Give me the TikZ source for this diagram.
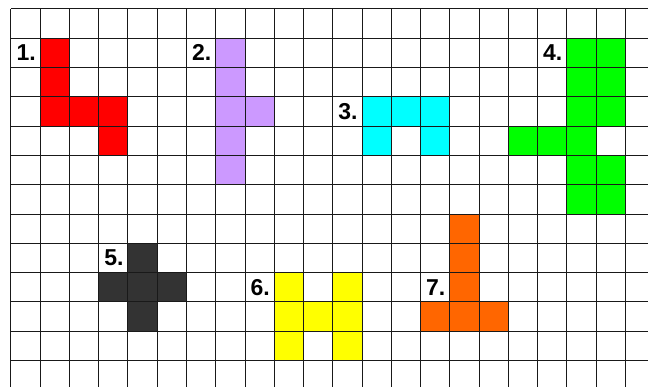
\documentclass[tikz,border=0pt]{standalone}
\usepackage{fontspec}
\setmainfont{Liberation Sans}
\usepackage{tikz}
\definecolor{piecered}{HTML}{FF0000}
\definecolor{piecelilac}{HTML}{CC99FF}
\definecolor{piececyan}{HTML}{00FFFF}
\definecolor{piecegreen}{HTML}{00FF00}
\definecolor{piecedark}{HTML}{333333}
\definecolor{pieceyellow}{HTML}{FFFF00}
\definecolor{pieceorange}{HTML}{FF6600}
\tikzset{
  gridline/.style={line width=1pt,color=black!90},
  piecelabel/.style={font=\fontsize{23}{23}\selectfont\bfseries,inner sep=0pt}
}
\newcommand{\piececell}[3]{\fill[#3] (#1,#2) rectangle ++(1,1);}

\begin{document}
\begin{tikzpicture}[x=29.25pt,y=-29.3pt]
\useasboundingbox[fill=white] (-0.376,-0.307) rectangle (21.778,12.90);
% piece 1
\foreach \c/\r in {1/1,1/2,1/3,2/3,3/3,3/4} {\piececell{\c}{\r}{piecered}}
% piece 2
\foreach \c/\r in {7/1,7/2,7/3,8/3,7/4,7/5} {\piececell{\c}{\r}{piecelilac}}
% piece 3
\foreach \c/\r in {12/3,13/3,14/3,12/4,14/4} {\piececell{\c}{\r}{piececyan}}
% piece 4
\foreach \c/\r in {19/1,20/1,19/2,20/2,19/3,20/3,17/4,18/4,19/4,19/5,20/5,19/6,20/6} {\piececell{\c}{\r}{piecegreen}}
% piece 5
\foreach \c/\r in {4/8,3/9,4/9,5/9,4/10} {\piececell{\c}{\r}{piecedark}}
% piece 6
\foreach \c/\r in {9/9,11/9,9/10,10/10,11/10,9/11,11/11} {\piececell{\c}{\r}{pieceyellow}}
% piece 7
\foreach \c/\r in {15/7,15/8,15/9,14/10,15/10,16/10} {\piececell{\c}{\r}{pieceorange}}
% grid
\foreach \c in {0,...,21} {\draw[gridline] (\c,0) -- (\c,12.90);}
\foreach \r in {0,...,12} {\draw[gridline] (0,\r) -- (21.778,\r);}
% labels
\node[piecelabel] (lab1) at (0.52,1.5) {1.};
\node[piecelabel] (lab2) at (6.52,1.5) {2.};
\node[piecelabel] (lab3) at (11.52,3.5) {3.};
\node[piecelabel] (lab4) at (18.52,1.5) {4.};
\node[piecelabel] (lab5) at (3.52,8.5) {5.};
\node[piecelabel] (lab6) at (8.52,9.5) {6.};
\node[piecelabel] (lab7) at (14.52,9.5) {7.};
\end{tikzpicture}
\end{document}
